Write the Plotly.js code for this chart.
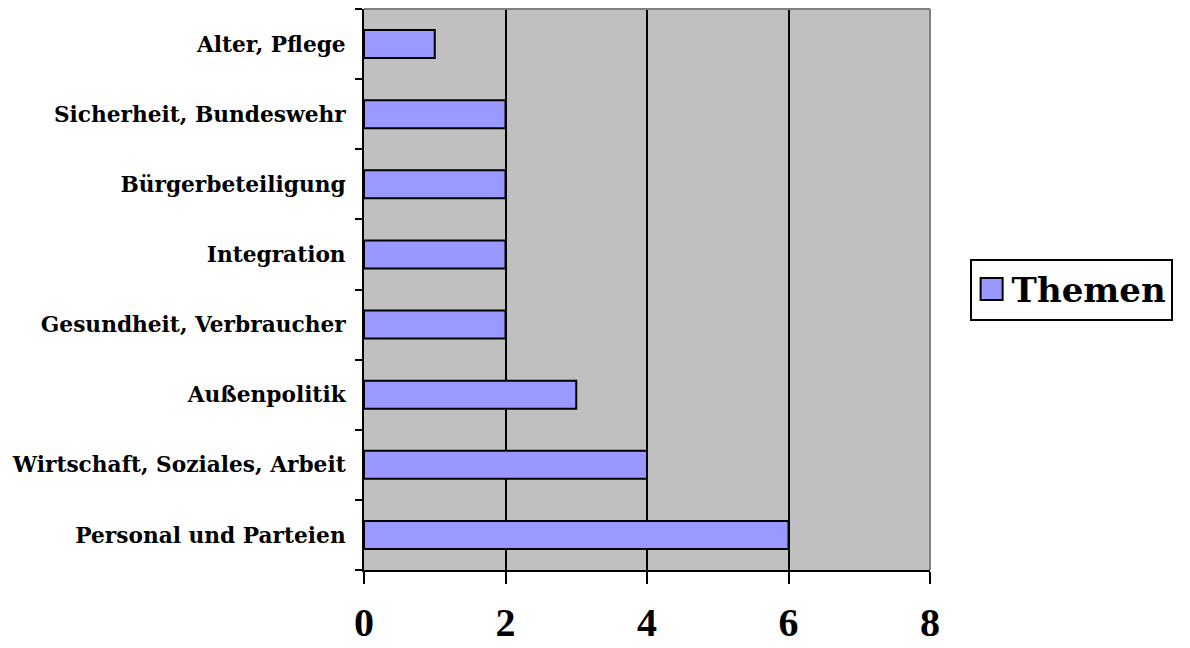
<!DOCTYPE html>
<html>
<head>
<meta charset="utf-8">
<script src="https://cdn.plot.ly/plotly-3.0.1.min.js"></script>
<style>
  html, body { margin: 0; padding: 0; background: #ffffff; }
  #chart { width: 1190px; height: 648px; }
</style>
</head>
<body>
<div id="chart"></div>
<script>
// Topics, listed from the bottom of the axis upwards
const themen = [
  "Personal und Parteien",
  "Wirtschaft, Soziales, Arbeit",
  "Außenpolitik",
  "Gesundheit, Verbraucher",
  "Integration",
  "Bürgerbeteiligung",
  "Sicherheit, Bundeswehr",
  "Alter, Pflege"
];
const anzahl = [6, 4, 3, 2, 2, 2, 2, 1];
const xTicks = [0, 2, 4, 6, 8];

const serifWide = "DejaVu Serif, serif";
const serif = "Liberation Serif, Times New Roman, serif";

const trace = {
  type: "bar",
  orientation: "h",
  name: "Themen",
  y: themen,
  x: anzahl,
  width: 0.4,
  marker: { color: "#9999FF", line: { color: "#000000", width: 2 } },
  hoverinfo: "x+y"
};

const layout = {
  width: 1190,
  height: 648,
  margin: { l: 364, r: 260, t: 9, b: 78 },
  paper_bgcolor: "#ffffff",
  plot_bgcolor: "#C0C0C0",
  showlegend: true,
  legend: {
    x: 1.07, xanchor: "left",
    y: 0.5, yanchor: "middle",
    bordercolor: "#000000",
    borderwidth: 2,
    bgcolor: "#ffffff",
    font: { family: serifWide, size: 34, color: "#000000", weight: "bold" }
  },
  xaxis: {
    range: [0, 8],
    tickvals: xTicks,
    ticktext: xTicks.map(String),
    showgrid: true,
    gridcolor: "#000000",
    gridwidth: 2,
    zeroline: false,
    showline: true,
    linecolor: "#000000",
    linewidth: 2,
    ticks: "outside",
    ticklen: 12,
    tickwidth: 2,
    tickcolor: "#000000",
    ticklabelstandoff: 4,
    tickfont: { family: serif, size: 40, color: "#000000", weight: "bold" },
    fixedrange: true
  },
  yaxis: {
    type: "category",
    categoryorder: "array",
    categoryarray: themen,
    tickson: "boundaries",
    ticks: "outside",
    ticklen: 7,
    tickwidth: 2,
    tickcolor: "#000000",
    showgrid: false,
    zeroline: false,
    showline: true,
    linecolor: "#000000",
    linewidth: 2,
    ticklabelstandoff: 12,
    tickfont: { family: serifWide, size: 21.7, color: "#000000", weight: "bold" },
    fixedrange: true
  },
  shapes: [
    // grey frame on top and right side of the plotting area
    { type: "line", xref: "paper", yref: "paper", x0: 0, x1: 1, y0: 1, y1: 1,
      line: { color: "#808080", width: 2 } },
    { type: "line", xref: "paper", yref: "paper", x0: 1, x1: 1, y0: 0, y1: 1,
      line: { color: "#808080", width: 2 } }
  ]
};

Plotly.newPlot("chart", [trace], layout, { displayModeBar: false, staticPlot: true })
  .then(function (gd) {
    // enlarge the legend swatch to a bigger square
    gd.querySelectorAll(".legend .legendpoints path").forEach(function (p) {
      p.setAttribute("d", "M11,11H-11V-11H11Z");
      p.style.strokeWidth = "2px";
    });
  });
</script>
</body>
</html>
